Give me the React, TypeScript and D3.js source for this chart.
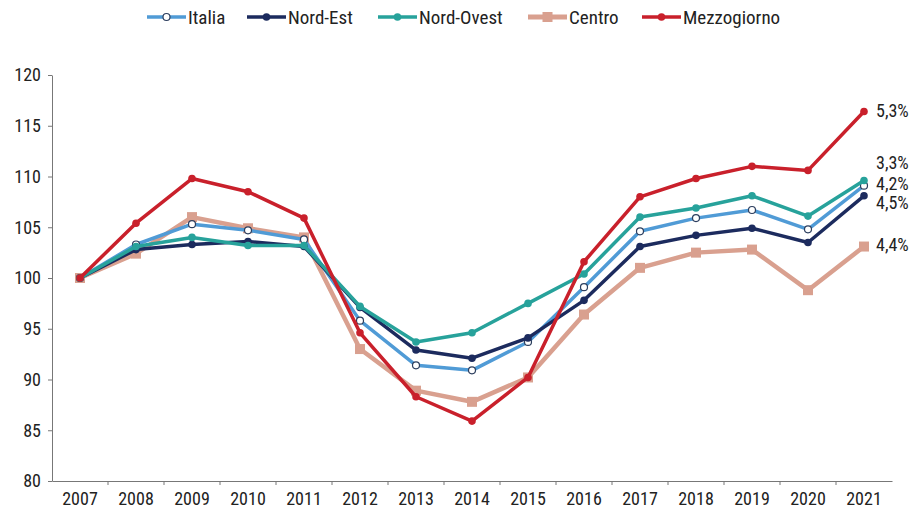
import React from 'react';
import * as d3 from 'd3';

const years = ['2007','2008','2009','2010','2011','2012','2013','2014','2015','2016','2017','2018','2019','2020','2021'];
const italia = [100, 103.3, 105.3, 104.7, 103.8, 95.8, 91.4, 90.9, 93.7, 99.1, 104.6, 105.9, 106.7, 104.8, 109.1];
const nordEst = [100, 102.8, 103.3, 103.6, 103.1, 97.1, 92.9, 92.1, 94.1, 97.8, 103.1, 104.2, 104.9, 103.5, 108.1];
const nordOvest = [100, 103.1, 104.0, 103.2, 103.2, 97.2, 93.7, 94.6, 97.5, 100.4, 106.0, 106.9, 108.1, 106.1, 109.6];
const centro = [100, 102.4, 106.0, 104.9, 104.0, 93.0, 88.9, 87.8, 90.2, 96.4, 101.0, 102.5, 102.8, 98.8, 103.1];
const mezzogiorno = [100, 105.4, 109.8, 108.5, 105.9, 94.6, 88.3, 85.9, 90.2, 101.6, 108.0, 109.8, 111.0, 110.6, 116.4];
const yTicks = [80, 85, 90, 95, 100, 105, 110, 115, 120];
const endLabels = ['4,2%', '4,5%', '3,3%', '4,4%', '5,3%'];
const endLabelY = [184, 203, 163, 245, 111];

const series = [
  { name: 'Italia', values: italia, color: '#509bd6', marker: 'open' },
  { name: 'Nord-Est', values: nordEst, color: '#1c2b5e', marker: 'dot' },
  { name: 'Nord-Ovest', values: nordOvest, color: '#27a29b', marker: 'dot' },
  { name: 'Centro', values: centro, color: '#d9a08f', marker: 'square' },
  { name: 'Mezzogiorno', values: mezzogiorno, color: '#c9202b', marker: 'dot' },
];
const drawOrder = [3, 0, 1, 2, 4];
const legendX = [147, 247, 378, 528, 642];

const font = "'Roboto Condensed', 'Liberation Sans Narrow', 'Roboto', sans-serif";

const App = () => {
  const svgRef = React.useRef<SVGSVGElement>(null);

  React.useEffect(() => {
    const svg = d3.select(svgRef.current);
    svg.selectAll('*').remove();
    const margin = { left: 52, right: 32, top: 75, bottom: 30 };
    const W = 924;

    const x = d3.scaleBand().domain(years).range([margin.left, W - margin.right]);
    const y = d3.scaleLinear().domain([80, 120]).range([481, 75]);
    const cx = (i: number) => (x(years[i]) as number) + x.bandwidth() / 2;

    const yAxis = d3.axisLeft(y).tickValues(yTicks).tickSize(4).tickSizeOuter(0).tickPadding(7);
    const gy = svg.append('g').attr('transform', `translate(${margin.left},0)`).call(yAxis);
    const xAxis = d3.axisBottom(x).tickSize(0).tickSizeOuter(0).tickPadding(11);
    const gx = svg.append('g').attr('transform', `translate(0,481)`).call(xAxis);
    // ticks sit at the band boundaries
    gx.selectAll('.bt').data(years.slice(1)).join('line')
      .attr('x1', d => x(d) as number).attr('x2', d => x(d) as number)
      .attr('y1', 0).attr('y2', 4).attr('stroke', '#777');
    [gx, gy].forEach(g => {
      g.select('.domain').attr('stroke', '#777');
      g.selectAll('.tick line').attr('stroke', '#777');
      g.selectAll('text').attr('font-family', font).attr('font-size', 18).attr('fill', '#222');
    });

    const line = d3.line<number>().x((d, i) => cx(i)).y(d => y(d));
    drawOrder.forEach(k => {
      const s = series[k];
      const g = svg.append('g');
      g.append('path').attr('d', line(s.values)).attr('fill', 'none')
        .attr('stroke', s.color).attr('stroke-width', s.marker === 'square' ? 4.5 : 3.5)
        .attr('stroke-linejoin', 'round');
      s.values.forEach((v, i) => {
        if (s.marker === 'square') {
          g.append('rect').attr('x', cx(i) - 5).attr('y', y(v) - 5).attr('width', 10).attr('height', 10).attr('fill', s.color);
        } else if (s.marker === 'open') {
          g.append('circle').attr('cx', cx(i)).attr('cy', y(v)).attr('r', 3.5).attr('fill', '#fff').attr('stroke', '#2c3e5e').attr('stroke-width', 1.2);
        } else {
          g.append('circle').attr('cx', cx(i)).attr('cy', y(v)).attr('r', 3.8).attr('fill', s.color);
        }
      });
    });

    series.forEach((s, k) => {
      svg.append('text').attr('x', 876).attr('y', endLabelY[k]).attr('dy', '0.35em')
        .attr('font-family', font).attr('font-size', 18).attr('fill', '#222').text(endLabels[k]);
    });

    // legend
    series.forEach((s, k) => {
      const g = svg.append('g').attr('transform', `translate(${legendX[k]},17)`);
      g.append('line').attr('x1', 0).attr('x2', 39).attr('y1', 0).attr('y2', 0)
        .attr('stroke', s.color).attr('stroke-width', s.marker === 'square' ? 5 : 3.5);
      if (s.marker === 'square') {
        g.append('rect').attr('x', 14.5).attr('y', -5).attr('width', 10).attr('height', 10).attr('fill', s.color);
      } else if (s.marker === 'open') {
        g.append('circle').attr('cx', 19.5).attr('cy', 0).attr('r', 3.5).attr('fill', '#fff').attr('stroke', '#2c3e5e').attr('stroke-width', 1.2);
      } else {
        g.append('circle').attr('cx', 19.5).attr('cy', 0).attr('r', 3.8).attr('fill', s.color);
      }
      g.append('text').attr('x', 41).attr('y', 0).attr('dy', '0.35em')
        .attr('font-family', font).attr('font-size', 19).attr('fill', '#222').text(s.name);
    });
  }, []);

  return (
    <svg ref={svgRef} width={924} height={511} style={{ position: 'absolute', left: 0, top: 0, background: '#fff' }}></svg>
  );
};

export default App;
